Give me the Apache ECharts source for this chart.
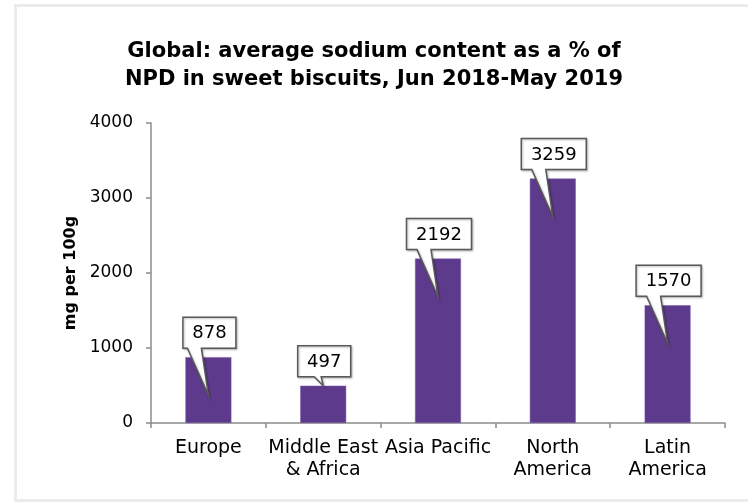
<!DOCTYPE html>
<html>
<head>
<meta charset="utf-8">
<script src="https://cdn.jsdelivr.net/npm/echarts@6/dist/echarts.min.js"></script>
<style>
  html, body { margin: 0; padding: 0; background: #fff; }
  #chart { width: 748px; height: 502px; }
</style>
</head>
<body>
<div id="chart"></div>
<script>
const titleText = 'Global: average sodium content as a % of\nNPD in sweet biscuits, Jun 2018-May 2019';
const yAxisName = 'mg per 100g';
const categories = ['Europe', 'Middle East\n& Africa', 'Asia Pacific', 'North\nAmerica', 'Latin\nAmerica'];
const values = [878, 497, 2192, 3259, 1570];
const yTicks = { min: 0, max: 4000, interval: 1000 };

const FONT = '"DejaVu Sans", "Liberation Sans", Arial, sans-serif';
const chart = echarts.init(document.getElementById('chart'), null, { renderer: 'canvas' });

const measureCanvas = document.createElement('canvas').getContext('2d');
function textWidth(str, size) {
  measureCanvas.font = size + 'px ' + FONT;
  return measureCanvas.measureText(str).width;
}

function renderCallout(params, api) {
  const idx = api.value(0);
  const val = api.value(1);
  const top = api.coord([idx, val]);
  const zero = api.coord([idx, 0]);
  const bx = top[0], by = top[1];
  const label = String(val);
  const fs = 18;
  const w = Math.round(textWidth(label, fs) + 19);
  const h = 31;
  const cx = bx + 1;
  const bottom = by - 9;
  const topY = bottom - h;
  const left = cx - w / 2, right = cx + w / 2;
  let tipY = by + 38;
  let b1 = cx - 22, b2 = cx - 8;
  if (tipY > zero[1] - 20) { tipY = by; b1 = cx - 10; b2 = cx - 3; }
  const pts = [[left, topY], [right, topY], [right, bottom], [b2, bottom], [bx, tipY], [b1, bottom], [left, bottom]];
  return {
    type: 'group',
    children: [
      { type: 'polygon', shape: { points: pts },
        style: { fill: '#ffffff', stroke: '#595959', lineWidth: 1.5, shadowColor: 'rgba(0,0,0,0.25)', shadowBlur: 2, shadowOffsetX: 1, shadowOffsetY: 1 } },
      { type: 'text', x: cx, y: topY + h / 2 + 1,
        style: { text: label, fill: '#000', font: fs + 'px ' + FONT, align: 'center', verticalAlign: 'middle' } }
    ]
  };
}

chart.setOption({
  animation: false,
  backgroundColor: '#ffffff',
  graphic: [{
    type: 'rect', silent: true, z: -10,
    shape: { x: 15.5, y: 5.5, width: 745, height: 495 },
    style: { fill: 'none', stroke: '#ebebeb', lineWidth: 3 }
  }],
  title: {
    text: titleText,
    left: 'center',
    top: 33,
    textStyle: { fontFamily: FONT, fontSize: 21, fontWeight: 'bold', color: '#000', lineHeight: 28 }
  },
  grid: { left: 151, right: 23, top: 123, bottom: 79, containLabel: false },
  xAxis: {
    type: 'category',
    data: categories,
    boundaryGap: true,
    axisLine: { lineStyle: { color: '#8c8c8c', width: 1.5 } },
    axisTick: { show: true, length: 5, lineStyle: { color: '#8c8c8c', width: 1.5 } },
    axisLabel: { fontFamily: FONT, fontSize: 19, color: '#000', margin: 14, lineHeight: 22, interval: 0 }
  },
  yAxis: {
    type: 'value',
    min: yTicks.min, max: yTicks.max, interval: yTicks.interval,
    name: yAxisName,
    nameLocation: 'middle',
    nameGap: 62,
    nameRotate: 90,
    nameTextStyle: { fontFamily: FONT, fontSize: 16, fontWeight: 'bold', color: '#000' },
    axisLine: { show: true, lineStyle: { color: '#8c8c8c', width: 1.5 } },
    axisTick: { show: true, length: 5, lineStyle: { color: '#8c8c8c', width: 1.5 } },
    splitLine: { show: false },
    axisLabel: { fontFamily: FONT, fontSize: 17, color: '#000', margin: 18, formatter: v => String(v) }
  },
  series: [
    {
      type: 'bar',
      data: values,
      barWidth: '40%',
      itemStyle: { color: '#5d3a8b', borderColor: '#7a5aa8', borderWidth: 0.5 }
    },
    {
      type: 'custom',
      data: values.map((v, i) => [i, v]),
      renderItem: renderCallout,
      z: 10,
      clip: false
    }
  ]
});
</script>
</body>
</html>
